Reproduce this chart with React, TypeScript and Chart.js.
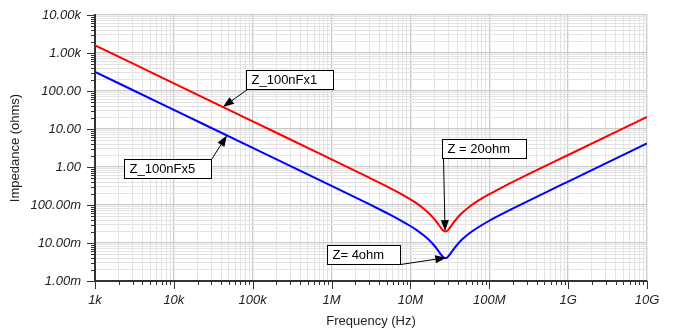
import React, { useEffect, useRef } from 'react';
import { Chart, registerables } from 'chart.js';

Chart.register(...registerables);

// Frequency points (Hz)
const frequencyHz = [1e3, 1e4, 1e5, 1e6, 3e6, 5e6, 7e6, 1e7, 1.2e7, 1.5e7, 1.7e7, 2e7, 2.2e7, 2.4e7, 2.6e7, 2.77e7, 2.9e7, 3.2e7, 3.5e7, 4e7, 4.5e7, 6e7, 7e7, 1e8, 1.5e8, 3e8, 1e9, 1e10];
// Impedance (ohms) of one 100nF capacitor
const z100nFx1 = [1591, 159.2, 15.92, 1.59, 0.524, 0.309, 0.214, 0.140, 0.110, 0.0776, 0.0617, 0.0430, 0.0334, 0.0260, 0.0213, 0.0200, 0.0207, 0.0260, 0.0337, 0.0476, 0.0613, 0.0999, 0.124, 0.1925, 0.301, 0.617, 2.07, 20.7];
// Impedance (ohms) of five 100nF capacitors in parallel
const z100nFx5 = [318.3, 31.83, 3.183, 0.318, 0.105, 0.0616, 0.0428, 0.0280, 0.0219, 0.0155, 0.0123, 0.0086, 0.0067, 0.0052, 0.0043, 0.0040, 0.0041, 0.0052, 0.0067, 0.0095, 0.0123, 0.0200, 0.0248, 0.0385, 0.0603, 0.123, 0.414, 4.15];

const xMinExp = 3;
const xMaxExp = 10;
const yMinExp = -3;
const yMaxExp = 4;

// Callout annotations (anchors in data coordinates)
const callouts = [
  { text: 'Z_100nFx1', box: [8.2e4, 357], corner: 'bl', tip: [4.19e4, 38] },
  { text: 'Z_100nFx5', box: [2.33e3, 1.63], corner: 'tr', tip: [4.71e4, 6.76] },
  { text: 'Z = 20ohm', box: [2.51e7, 5.46], corner: 'bl', tip: [2.75e7, 0.0205] },
  { text: 'Z= 4ohm', box: [8.75e5, 0.00886], corner: 'br', tip: [2.85e7, 0.0041] },
];

const FONT = "'Liberation Sans', Arial, sans-serif";

const isDecade = (v: number) => Math.abs(Math.log10(v) - Math.round(Math.log10(v))) < 1e-6;

function logTicks(minExp: number, maxExp: number) {
  const t: { value: number }[] = [];
  for (let e = minExp; e < maxExp; e++) {
    for (let m = 1; m < 10; m++) t.push({ value: m * Math.pow(10, e) });
  }
  t.push({ value: Math.pow(10, maxExp) });
  return t;
}

function fmtY(v: number) {
  if (!isDecade(v)) return '';
  if (v >= 1000) return (v / 1000).toFixed(2) + 'k';
  if (v >= 1) return v.toFixed(2);
  return (v * 1000).toFixed(2) + 'm';
}

function fmtX(v: number) {
  if (!isDecade(v)) return '';
  if (v >= 1e9) return Math.round(v / 1e9) + 'G';
  if (v >= 1e6) return Math.round(v / 1e6) + 'M';
  return Math.round(v / 1e3) + 'k';
}

const decorPlugin = {
  id: 'decor',
  afterDatasetsDraw(chart: any) {
    const { ctx, chartArea: a, scales } = chart;
    const xs = scales.x;
    const ys = scales.y;
    ctx.save();
    // axis ticks
    ctx.strokeStyle = '#333';
    ctx.lineWidth = 1;
    ctx.beginPath();
    for (const t of xs.ticks) {
      const px = Math.round(xs.getPixelForValue(t.value)) + 0.5;
      const len = isDecade(t.value) ? 8 : 4;
      ctx.moveTo(px, a.bottom);
      ctx.lineTo(px, a.bottom + len);
    }
    for (const t of ys.ticks) {
      const py = Math.round(ys.getPixelForValue(t.value)) + 0.5;
      const len = isDecade(t.value) ? 8 : 4;
      ctx.moveTo(a.left, py);
      ctx.lineTo(a.left - len, py);
    }
    ctx.stroke();

    // callouts
    ctx.font = `13px ${FONT}`;
    ctx.textBaseline = 'middle';
    for (const c of callouts) {
      const bx = Math.round(xs.getPixelForValue(c.box[0])) + 0.5;
      const by = Math.round(ys.getPixelForValue(c.box[1])) + 0.5;
      const w = Math.round(ctx.measureText(c.text).width + 21);
      const h = 19;
      const tx = xs.getPixelForValue(c.tip[0]);
      const ty = ys.getPixelForValue(c.tip[1]);
      let sx = bx;
      let sy = by;
      if (c.corner === 'bl') { sx = bx + 1; sy = by + h; }
      if (c.corner === 'tr') { sx = bx + w; sy = by; }
      if (c.corner === 'br') { sx = bx + w; sy = by + h; }
      // arrow
      const ang = Math.atan2(ty - sy, tx - sx);
      const hl = 11;
      const hw = 4;
      const ex = tx - Math.cos(ang) * hl;
      const ey = ty - Math.sin(ang) * hl;
      ctx.strokeStyle = '#000';
      ctx.fillStyle = '#000';
      ctx.lineWidth = 1;
      ctx.beginPath();
      ctx.moveTo(sx, sy);
      ctx.lineTo(ex, ey);
      ctx.stroke();
      ctx.beginPath();
      ctx.moveTo(tx, ty);
      ctx.lineTo(ex - Math.sin(ang) * hw, ey + Math.cos(ang) * hw);
      ctx.lineTo(ex + Math.sin(ang) * hw, ey - Math.cos(ang) * hw);
      ctx.closePath();
      ctx.fill();
      // box
      ctx.fillStyle = '#fff';
      ctx.fillRect(bx, by, w, h);
      ctx.strokeStyle = '#000';
      ctx.strokeRect(bx, by, w, h);
      ctx.fillStyle = '#000';
      ctx.fillText(c.text, bx + 5, by + h / 2 + 0.5);
    }
    ctx.restore();
  },
};

export default function App() {
  const ref = useRef<HTMLCanvasElement | null>(null);

  useEffect(() => {
    document.body.style.margin = '0';
    if (!ref.current) return;
    const gridColor = (c: any) => (c.tick && isDecade(c.tick.value) ? '#c9c9c9' : '#e3e3e3');
    const chart = new Chart(ref.current, {
      type: 'line',
      data: {
        datasets: [
          {
            label: 'Z_100nFx1',
            data: frequencyHz.map((f, i) => ({ x: f, y: z100nFx1[i] })),
            borderColor: '#ff0000',
            borderWidth: 2,
            pointRadius: 0,
            cubicInterpolationMode: 'monotone',
          },
          {
            label: 'Z_100nFx5',
            data: frequencyHz.map((f, i) => ({ x: f, y: z100nFx5[i] })),
            borderColor: '#0000ff',
            borderWidth: 2,
            pointRadius: 0,
            cubicInterpolationMode: 'monotone',
          },
        ],
      },
      options: {
        animation: false,
        responsive: false,
        events: [],
        layout: { padding: { top: 15, right: 27, left: 0, bottom: 0 } },
        plugins: { legend: { display: false }, tooltip: { enabled: false } },
        scales: {
          x: {
            type: 'logarithmic',
            min: Math.pow(10, xMinExp),
            max: Math.pow(10, xMaxExp),
            afterBuildTicks: (s: any) => { s.ticks = logTicks(xMinExp, xMaxExp); },
            afterFit: (s: any) => { s.height = 48; s.paddingLeft = 0; s.paddingRight = 0; },
            grid: { color: gridColor, lineWidth: (c: any) => (c.tick && isDecade(c.tick.value) ? 1.3 : 1), drawTicks: false },
            border: { display: true, color: '#333', width: 2 },
            ticks: {
              autoSkip: false,
              maxRotation: 0,
              padding: 12,
              color: '#222',
              font: { family: FONT, size: 13, style: 'italic' },
              callback: (v: any) => fmtX(Number(v)),
            },
            title: {
              display: true,
              text: 'Frequency (Hz)',
              color: '#222',
              font: { family: FONT, size: 13 },
              padding: { top: 0, bottom: 0 },
            },
          },
          y: {
            type: 'logarithmic',
            min: Math.pow(10, yMinExp),
            max: Math.pow(10, yMaxExp),
            afterBuildTicks: (s: any) => { s.ticks = logTicks(yMinExp, yMaxExp); },
            afterFit: (s: any) => { s.width = 95; s.paddingTop = 0; s.paddingBottom = 0; },
            grid: { color: gridColor, lineWidth: (c: any) => (c.tick && isDecade(c.tick.value) ? 1.3 : 1), drawTicks: false },
            border: { display: true, color: '#333', width: 2 },
            ticks: {
              autoSkip: false,
              padding: 14,
              color: '#222',
              font: { family: FONT, size: 13, style: 'italic' },
              callback: (v: any) => fmtY(Number(v)),
            },
            title: {
              display: true,
              text: 'Impedance (ohms)',
              color: '#222',
              font: { family: FONT, size: 13 },
              padding: { top: 8, bottom: 0 },
            },
          },
        },
      },
      plugins: [decorPlugin],
    } as any);
    return () => chart.destroy();
  }, []);

  return (
    <div style={{ width: 674, height: 329, background: '#fff' }}>
      <canvas ref={ref} width={674} height={329} style={{ display: 'block' }} />
    </div>
  );
}
